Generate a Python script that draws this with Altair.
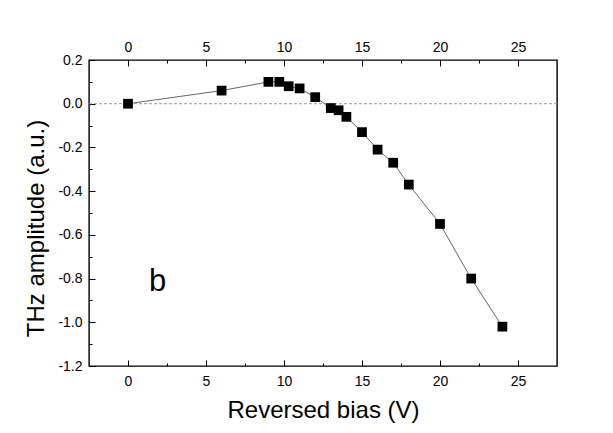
import altair as alt
import pandas as pd

# ---- data ----
bias = [0, 6, 9, 9.7, 10.3, 11, 12, 13, 13.5, 14, 15, 16, 17, 18, 20, 22, 24]
amplitude = [0.0, 0.06, 0.10, 0.10, 0.08, 0.07, 0.03, -0.02, -0.03, -0.06,
             -0.13, -0.21, -0.27, -0.37, -0.55, -0.80, -1.02]

x_major = [0, 5, 10, 15, 20, 25]
x_minor = [2.5, 7.5, 12.5, 17.5, 22.5]
y_major = [-1.2, -1.0, -0.8, -0.6, -0.4, -0.2, 0.0, 0.2]
y_minor = [-1.1, -0.9, -0.7, -0.5, -0.3, -0.1, 0.1]
x_domain = [-2.5, 27.5]
y_domain = [-1.2, 0.2]
zero_level = [0.0]
panel_label = ["b"]
panel_label_x = [1.9]
panel_label_y = [-0.857]

FONT = "Liberation Sans"

df = pd.DataFrame({"bias": bias, "amp": amplitude})
zero_df = pd.DataFrame({"amp": zero_level})
label_df = pd.DataFrame({"txt": panel_label, "bias": panel_label_x, "amp": panel_label_y})

xscale = alt.Scale(domain=x_domain, nice=False, zero=False)
yscale = alt.Scale(domain=y_domain, nice=False, zero=False)

common = dict(grid=False, domain=False, tickColor="black", tickWidth=1,
              labelFont=FONT, labelFontSize=14, labelColor="black")

y_label_expr = "replace(format(datum.value, '.1f'), '\u2212', '-')"

ax_x_bottom = alt.Axis(orient="bottom", values=x_major, tickSize={"expr": "-6"},
                       labelPadding=25, labelBaseline="alphabetic",
                       title="Reversed bias (V)", titleFont=FONT, titleFontSize=24,
                       titleFontWeight="normal", titleColor="black",
                       titleY=51, titleBaseline="alphabetic", **common)
ax_x_bottom_minor = alt.Axis(orient="bottom", values=x_minor, tickSize={"expr": "-3"},
                             labels=False, title=None, **common)
ax_x_top = alt.Axis(orient="top", values=x_major, tickSize={"expr": "-6"},
                    labelPadding=15, labelBaseline="alphabetic", title=None, **common)
ax_x_top_minor = alt.Axis(orient="top", values=x_minor, tickSize={"expr": "-3"},
                          labels=False, title=None, **common)
ax_y_left = alt.Axis(orient="left", values=y_major, tickSize={"expr": "-6"},
                     labelPadding=13, labelExpr=y_label_expr,
                     title="THz amplitude (a.u.)", titleFont=FONT, titleFontSize=24,
                     titleFontWeight="normal", titleColor="black",
                     titleX=-53, titleY=168, titleBaseline="middle", **common)
ax_y_left_minor = alt.Axis(orient="left", values=y_minor, tickSize={"expr": "-3"},
                           labels=False, title=None, **common)

line = alt.Chart(df).mark_line(color="#555555", strokeWidth=0.9).encode(
    x=alt.X("bias:Q", scale=xscale, axis=ax_x_bottom),
    y=alt.Y("amp:Q", scale=yscale, axis=ax_y_left),
)

points = alt.Chart(df).mark_point(shape="square", filled=True, size=95,
                                  color="black", opacity=1).encode(
    x=alt.X("bias:Q", scale=xscale, axis=ax_x_bottom_minor),
    y=alt.Y("amp:Q", scale=yscale, axis=ax_y_left_minor),
)

zero_rule = alt.Chart(zero_df).mark_rule(color="#999999", strokeWidth=1,
                                         strokeDash=[3, 2]).encode(
    y=alt.Y("amp:Q", scale=yscale, axis=None),
    x=alt.value(0),
    x2=alt.value(468),
)

# top major axis attached to a layer that draws nothing extra
top_axis_layer = alt.Chart(df).mark_point(opacity=0).encode(
    x=alt.X("bias:Q", scale=xscale, axis=ax_x_top),
    y=alt.Y("amp:Q", scale=yscale, axis=None),
)

label = alt.Chart(label_df).mark_text(font=FONT, fontSize=31, color="black",
                                      align="center", baseline="alphabetic").encode(
    x=alt.X("bias:Q", scale=xscale, axis=ax_x_top_minor),
    y=alt.Y("amp:Q", scale=yscale, axis=None),
    text="txt:N",
)

chart = alt.layer(zero_rule, line, points, top_axis_layer, label).resolve_axis(
    x="independent", y="independent"
).properties(
    width=468, height=306,
    autosize=alt.AutoSizeParams(type="none"),
    padding={"left": 81, "top": 52, "right": 48, "bottom": 59},
    background="white",
).configure_view(stroke="black", strokeWidth=1.4)

chart.save("out.html", embed_options={"renderer": "svg", "actions": False})
